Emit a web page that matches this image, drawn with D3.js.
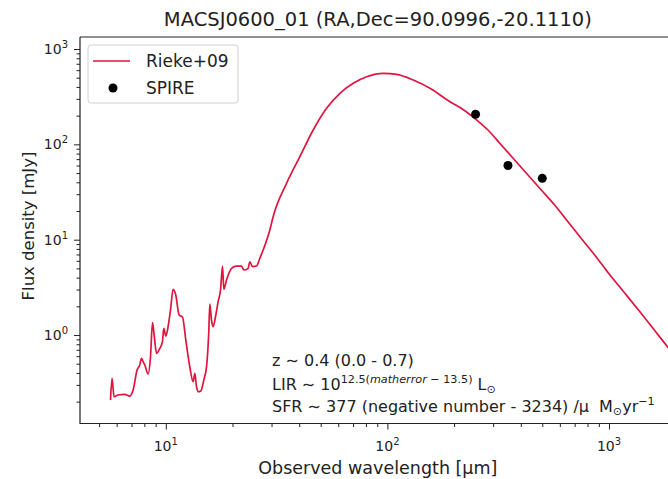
<!DOCTYPE html>
<html>
<head>
<meta charset="utf-8">
<script src="https://cdn.jsdelivr.net/npm/d3@7"></script>
<style>
  html, body { margin: 0; padding: 0; background: #fff; }
  svg { display: block; font-family: "DejaVu Sans", sans-serif; }
</style>
</head>
<body>
<svg id="chart" width="668" height="479"></svg>
<script>
// Rieke+09 template SED (observed wavelength in micron, flux density in mJy)
const templateWavelength = [5.63, 5.72, 5.84, 6.09, 6.53, 6.88, 7.12, 7.42, 7.63, 7.77,
  7.90, 8.04, 8.32, 8.53, 8.71, 8.86, 9.08, 9.40, 9.66, 9.79,
  10.0, 10.24, 10.50, 10.79, 11.09, 11.48, 11.90, 12.31, 12.83, 13.28,
  13.52, 13.76, 13.99, 14.39, 14.84, 15.27, 15.63, 15.80, 16.08, 16.35,
  16.76, 17.22, 17.66, 18.03, 18.27, 18.79, 19.80, 20.85, 21.97, 22.49,
  23.52, 23.94, 24.63, 25.68, 26.57, 27.69, 29.48, 30.51, 35.07, 40.27,
  46.24, 53.15, 61.06, 70.09, 80.55, 95.72, 110.0, 130.8, 155.6, 191.5,
  215.4, 247.6, 284.3, 326.6, 375.2, 430.9, 494.9, 568.8, 653.0, 749.9,
  864.8, 989.7, 1177, 1399, 1608, 1847, 2007];
const templateFlux = [0.208, 0.351, 0.225, 0.235, 0.239, 0.229, 0.265, 0.430, 0.485, 0.570,
  0.525, 0.485, 0.390, 0.592, 1.346, 1.0, 0.643, 0.725, 0.851, 1.176,
  0.976, 1.222, 1.829, 3.016, 2.628, 1.621, 1.534, 0.886, 0.465, 0.324,
  0.396, 0.287, 0.254, 0.259, 0.337, 0.465, 1.083, 2.114, 1.436, 1.222,
  1.556, 2.235, 2.965, 5.293, 3.016, 3.776, 5.01, 5.29, 5.29, 4.81,
  5.01, 5.87, 5.21, 5.29, 6.38, 8.12, 12.63, 17.42, 39.03, 74.2,
  141.4, 238.9, 343.2, 436.8, 512.3, 556.3, 542.9, 473.1, 387.1, 280.2,
  238.9, 187.6, 141.4, 98.4, 68.5, 47.7, 33.2, 23.1, 15.4, 10.29,
  6.84, 4.53, 2.76, 1.68, 1.115, 0.739, 0.581];

// SPIRE photometry
const spireWavelength = [250, 350, 500];
const spireFlux = [207, 60, 44];

// axis ticks
const xMajorTicks = [10, 100, 1000];
const xTickExponents = ["1", "2", "3"];
const yMajorTicks = [1, 10, 100, 1000];
const yTickExponents = ["0", "1", "2", "3"];

const titleText = "MACSJ0600_01 (RA,Dec=90.0996,-20.1110)";
const lineColor = "#e0143f";

const svg = d3.select("#chart");
const plotLeft = 80, plotRight = 675.7, plotTop = 37, plotBottom = 423.5;

const x = d3.scaleLog().domain([4.1, 2000]).range([plotLeft, plotRight]);
const y = d3.scaleLog().domain([Math.pow(10, -0.928), Math.pow(10, 3.126)]).range([plotBottom, plotTop]);

svg.append("defs").append("clipPath").attr("id", "plotclip")
  .append("rect").attr("x", plotLeft).attr("y", plotTop)
  .attr("width", plotRight - plotLeft).attr("height", plotBottom - plotTop);

// minor tick values inside the domain
function minorTicks(scale) {
  const [d0, d1] = scale.domain();
  const out = [];
  for (let e = -2; e <= 4; e++) {
    for (let m = 2; m <= 9; m++) {
      const v = m * Math.pow(10, e);
      if (v >= d0 && v <= d1) out.push(v);
    }
  }
  return out;
}

// x axis
const gx = svg.append("g").attr("transform", `translate(0,${plotBottom})`);
gx.call(d3.axisBottom(x).tickValues(minorTicks(x)).tickSize(3.5).tickFormat(""));
gx.select(".domain").remove();
const gxMaj = svg.append("g").attr("transform", `translate(0,${plotBottom})`);
gxMaj.call(d3.axisBottom(x).tickValues(xMajorTicks).tickSize(6).tickFormat(""));
gxMaj.select(".domain").remove();

xMajorTicks.forEach((v, i) => {
  const t = svg.append("text").attr("x", x(v)).attr("y", 451)
    .attr("text-anchor", "middle").attr("font-size", 14).attr("fill", "#222");
  t.append("tspan").text("10");
  t.append("tspan").attr("dy", -6).attr("font-size", 10).text(xTickExponents[i]);
});

// y axis
const gy = svg.append("g").attr("transform", `translate(${plotLeft},0)`);
gy.call(d3.axisLeft(y).tickValues(minorTicks(y)).tickSize(3.5).tickFormat(""));
gy.select(".domain").remove();
const gyMaj = svg.append("g").attr("transform", `translate(${plotLeft},0)`);
gyMaj.call(d3.axisLeft(y).tickValues(yMajorTicks).tickSize(6).tickFormat(""));
gyMaj.select(".domain").remove();
svg.selectAll(".tick line").attr("stroke", "#222").attr("stroke-width", 1);

yMajorTicks.forEach((v, i) => {
  const t = svg.append("text").attr("x", 68).attr("y", y(v) + 5)
    .attr("text-anchor", "end").attr("font-size", 14).attr("fill", "#222");
  t.append("tspan").text("10");
  t.append("tspan").attr("dy", -6).attr("font-size", 10).text(yTickExponents[i]);
});

// spines
svg.append("path")
  .attr("d", `M${plotLeft},${plotTop}H${plotRight}M${plotLeft},${plotTop}V${plotBottom}H${plotRight}M${plotRight},${plotTop}V${plotBottom}`)
  .attr("fill", "none").attr("stroke", "#222").attr("stroke-width", 1.2);

// template line
const sed = templateWavelength.map((w, i) => [w, templateFlux[i]]);
svg.append("path")
  .datum(sed)
  .attr("clip-path", "url(#plotclip)")
  .attr("fill", "none")
  .attr("stroke", lineColor)
  .attr("stroke-width", 1.7)
  .attr("stroke-linejoin", "round")
  .attr("d", d3.line().x(d => x(d[0])).y(d => y(d[1])).curve(d3.curveMonotoneX));

// SPIRE points
svg.append("g").selectAll("circle")
  .data(spireWavelength.map((w, i) => [w, spireFlux[i]]))
  .join("circle")
  .attr("cx", d => x(d[0])).attr("cy", d => y(d[1]))
  .attr("r", 4.5).attr("fill", "#000");

// legend
const lg = svg.append("g");
lg.append("rect").attr("x", 88).attr("y", 45).attr("width", 150).attr("height", 58)
  .attr("rx", 3).attr("fill", "#fff").attr("fill-opacity", 0.8)
  .attr("stroke", "#d0d0d0").attr("stroke-width", 1);
lg.append("line").attr("x1", 93).attr("x2", 130).attr("y1", 61).attr("y2", 61)
  .attr("stroke", lineColor).attr("stroke-width", 1.7);
lg.append("text").attr("x", 146).attr("y", 67).attr("font-size", 17).attr("fill", "#222").text("Rieke+09");
lg.append("circle").attr("cx", 113).attr("cy", 88).attr("r", 4.5).attr("fill", "#000");
lg.append("text").attr("x", 146).attr("y", 94).attr("font-size", 17).attr("fill", "#222").text("SPIRE");

// annotation
const ann = svg.append("g").attr("font-size", 16).attr("fill", "#222");
ann.append("text").attr("x", 272).attr("y", 366).text("z \u223C 0.4 (0.0 - 0.7)");
const lir = ann.append("text").attr("x", 272).attr("y", 390);
lir.append("tspan").text("LIR \u223C 10");
lir.append("tspan").attr("dy", -7).attr("font-size", 11.2).text("12.5(");
lir.append("tspan").attr("font-size", 11.2).attr("font-style", "italic").text("matherror");
lir.append("tspan").attr("font-size", 11.2).text(" \u2212 13.5)");
lir.append("tspan").attr("dy", 7).attr("dx", 5).text("L");
lir.append("tspan").attr("dy", 3).attr("font-size", 11.2).text("\u2299");
const sfr = ann.append("text").attr("x", 272).attr("y", 412);
sfr.append("tspan").text("SFR \u223C 377 (negative number - 3234) /\u03BC");
sfr.append("tspan").attr("dx", 10).text("M");
sfr.append("tspan").attr("dy", 3).attr("font-size", 11.2).text("\u2299");
sfr.append("tspan").attr("dy", -3).text("yr");
sfr.append("tspan").attr("dy", -7).attr("font-size", 11.2).text("\u22121");

// title and axis labels
svg.append("text").attr("x", (plotLeft + plotRight) / 2).attr("y", 26).attr("text-anchor", "middle")
  .attr("font-size", 19.5).attr("fill", "#222").text(titleText);
svg.append("text").attr("x", (plotLeft + plotRight) / 2).attr("y", 474).attr("text-anchor", "middle")
  .attr("font-size", 17.5).attr("fill", "#222").text("Observed wavelength [\u03BCm]");
svg.append("text").attr("transform", `translate(34,226) rotate(-90)`)
  .attr("text-anchor", "middle").attr("font-size", 16.5).attr("fill", "#222").text("Flux density [mJy]");
</script>
</body>
</html>
